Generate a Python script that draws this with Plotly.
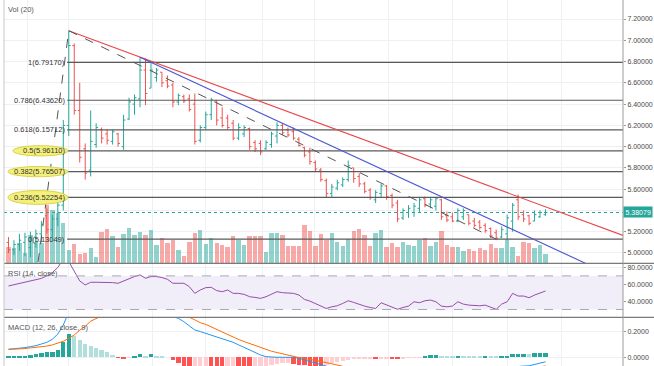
import plotly.graph_objects as go

# ---------------- data ----------------
opens = [5.10, 5.03, 5.08, 5.10, 5.05, 5.15, 5.18, 5.35, 5.22, 5.32,
         5.45, 6.20, 6.95, 6.34, 5.98, 5.78, 6.02, 6.16, 6.12, 6.05,
         6.12, 6.00, 6.26, 6.40, 6.45, 6.72, 6.55, 6.65, 6.70, 6.62,
         6.58, 6.42, 6.47, 6.45, 6.40, 6.06, 6.18, 6.30, 6.43, 6.27,
         6.27, 6.22, 6.08, 6.12, 6.17, 6.04, 6.03, 5.98, 6.02, 6.10,
         6.20, 6.16, 6.14, 6.07, 5.99, 5.95, 5.85, 5.78, 5.68, 5.56,
         5.61, 5.64, 5.69, 5.80, 5.72, 5.65, 5.59, 5.50, 5.56, 5.63,
         5.54, 5.47, 5.33, 5.38, 5.38, 5.42, 5.51, 5.46, 5.44, 5.50,
         5.35, 5.34, 5.30, 5.34, 5.36, 5.30, 5.29, 5.26, 5.23, 5.19,
         5.15, 5.18, 5.30, 5.50, 5.36, 5.35, 5.30, 5.34, 5.36]
highs = [5.15, 5.12, 5.18, 5.19, 5.20, 5.22, 5.30, 5.42, 5.36, 5.50,
         6.25, 7.09, 6.97, 6.60, 6.03, 6.34, 6.22, 6.18, 6.16, 6.16,
         6.13, 6.30, 6.46, 6.49, 6.84, 6.83, 6.80, 6.74, 6.70, 6.67,
         6.60, 6.50, 6.49, 6.49, 6.50, 6.20, 6.33, 6.46, 6.44, 6.37,
         6.30, 6.25, 6.22, 6.20, 6.18, 6.06, 6.06, 6.06, 6.14, 6.23,
         6.22, 6.18, 6.18, 6.09, 6.00, 5.99, 5.87, 5.80, 5.70, 5.65,
         5.69, 5.71, 5.87, 5.80, 5.75, 5.67, 5.61, 5.59, 5.65, 5.64,
         5.56, 5.50, 5.42, 5.45, 5.47, 5.52, 5.53, 5.52, 5.52, 5.51,
         5.39, 5.38, 5.42, 5.42, 5.36, 5.33, 5.31, 5.28, 5.24, 5.22,
         5.25, 5.36, 5.47, 5.55, 5.40, 5.36, 5.40, 5.40, 5.41]
lows = [5.00, 4.98, 5.02, 4.97, 4.96, 5.05, 5.10, 5.18, 5.15, 5.25,
        5.40, 6.10, 6.30, 5.85, 5.69, 5.72, 5.99, 6.03, 6.02, 6.02,
        6.00, 5.97, 6.25, 6.30, 6.37, 6.39, 6.55, 6.61, 6.56, 6.55,
        6.37, 6.39, 6.41, 6.33, 6.02, 6.04, 6.16, 6.25, 6.20, 6.18,
        6.16, 6.06, 6.06, 6.09, 5.97, 5.95, 5.92, 5.97, 5.99, 6.03,
        6.11, 6.09, 6.06, 6.00, 5.90, 5.83, 5.76, 5.67, 5.52, 5.52,
        5.59, 5.62, 5.67, 5.66, 5.62, 5.56, 5.50, 5.47, 5.52, 5.50,
        5.42, 5.29, 5.31, 5.33, 5.34, 5.38, 5.43, 5.42, 5.40, 5.31,
        5.29, 5.29, 5.29, 5.31, 5.26, 5.24, 5.22, 5.19, 5.14, 5.12,
        5.14, 5.12, 5.20, 5.31, 5.29, 5.26, 5.30, 5.33, 5.35]
closes = [5.03, 5.08, 5.12, 5.15, 5.15, 5.18, 5.27, 5.22, 5.32, 5.45,
          6.20, 6.95, 6.34, 5.90, 5.75, 6.05, 6.18, 6.08, 6.06, 6.14,
          6.03, 6.25, 6.42, 6.46, 6.72, 6.50, 6.72, 6.72, 6.60, 6.57,
          6.42, 6.48, 6.43, 6.35, 6.05, 6.18, 6.30, 6.44, 6.25, 6.20,
          6.18, 6.08, 6.18, 6.18, 6.00, 5.98, 5.95, 6.04, 6.12, 6.20,
          6.13, 6.11, 6.08, 6.01, 5.92, 5.86, 5.79, 5.69, 5.56, 5.62,
          5.66, 5.69, 5.82, 5.70, 5.65, 5.58, 5.52, 5.57, 5.63, 5.53,
          5.45, 5.32, 5.40, 5.42, 5.44, 5.50, 5.45, 5.50, 5.51, 5.34,
          5.31, 5.30, 5.40, 5.40, 5.28, 5.26, 5.24, 5.21, 5.16, 5.14,
          5.22, 5.33, 5.45, 5.34, 5.32, 5.28, 5.36, 5.38, 5.38079]
volume = [16, 15, 20, 10, 28, 21, 20, 58, 53, 50,
          40, 13, 19, 9, 10, 15, 6, 31, 34, 27,
          16, 29, 35, 28, 31, 28, 33, 18, 25, 20,
          23, 13, 7, 21, 30, 33, 19, 25, 20, 18,
          16, 27, 23, 18, 27, 27, 27, 11, 30, 30,
          28, 17, 17, 17, 38, 32, 17, 29, 23, 30,
          21, 17, 24, 32, 34, 28, 17, 30, 33, 16,
          20, 16, 21, 18, 17, 23, 25, 17, 21, 32,
          18, 16, 16, 12, 14, 12, 15, 13, 19, 15,
          15, 23, 16, 7, 21, 20, 15, 18, 9]
rsi = [58, 59.5, 61, 62.5, 64, 65, 67, 70, 74, 80,
       90, 87, 75, 64, 59.2, 62.4, 62.4, 62.4, 62, 62,
       61.2, 64, 67.2, 69.2, 71.2, 67.2, 69.2, 69.2, 68, 66,
       61.2, 61.2, 61.2, 57.2, 49.2, 53.2, 56, 56.4, 52.4, 51.2,
       53.2, 49.2, 49.2, 48, 45.2, 44.4, 43.2, 45.2, 48.4, 51.2,
       50, 49.2, 49.2, 47.2, 42, 40, 37.2, 34, 31.2, 33.2,
       34.4, 37.2, 40.4, 38.4, 36, 34, 32.4, 31.2, 38, 35.2,
       32.4, 30.2, 32.4, 34, 39.2, 38, 40.4, 41.2, 39.2, 34,
       33.2, 34, 39.2, 36.4, 35.2, 34.4, 34.4, 35.2, 32.4, 30.2,
       36.4, 39.2, 49.2, 46, 46, 44, 47.2, 50, 52]
macd_line = [0.062, 0.065, 0.07, 0.075, 0.083, 0.09, 0.103, 0.116, 0.14, 0.18,
             0.25, 0.35, 0.38, 0.40, 0.40, 0.39, 0.38, 0.36, 0.345, 0.33,
             0.318, 0.31, 0.32, 0.33, 0.345, 0.35, 0.355, 0.35, 0.34, 0.33,
             0.315, 0.302, 0.276, 0.243, 0.212, 0.199, 0.186, 0.171, 0.160, 0.147,
             0.134, 0.116, 0.096, 0.077, 0.057, 0.036, 0.018, 0.005, 0.0, 0.0,
             0.0, 0.0, 0.0, -0.008, -0.021, -0.034, -0.047, -0.06, -0.072, -0.085,
             -0.095, -0.105, -0.11, -0.115, -0.12, -0.125, -0.13, -0.135, -0.135, -0.138,
             -0.142, -0.148, -0.148, -0.146, -0.142, -0.14, -0.133, -0.128, -0.124, -0.122,
             -0.12, -0.118, -0.112, -0.11, -0.108, -0.107, -0.106, -0.1, -0.098, -0.097,
             -0.094, -0.09, -0.075, -0.07, -0.068, -0.066, -0.058, -0.045, -0.035]
signal_line = [0.062, 0.062, 0.065, 0.068, 0.072, 0.075, 0.08, 0.087, 0.096, 0.108,
               0.124, 0.147, 0.173, 0.21, 0.24, 0.28, 0.30, 0.32, 0.33, 0.335,
               0.338, 0.333, 0.33, 0.33, 0.333, 0.338, 0.342, 0.345, 0.345, 0.342,
               0.338, 0.33, 0.32, 0.31, 0.29, 0.268, 0.255, 0.235, 0.212, 0.193,
               0.175, 0.156, 0.138, 0.122, 0.106, 0.090, 0.074, 0.059, 0.047, 0.037,
               0.026, 0.015, 0.005, -0.002, -0.008, -0.015, -0.024, -0.033, -0.041, -0.05,
               -0.062, -0.072, -0.08, -0.088, -0.095, -0.1, -0.105, -0.11, -0.115, -0.118,
               -0.122, -0.126, -0.13, -0.132, -0.133, -0.133, -0.132, -0.13, -0.128, -0.126,
               -0.124, -0.122, -0.12, -0.118, -0.115, -0.113, -0.11, -0.108, -0.105, -0.103,
               -0.1, -0.098, -0.097, -0.095, -0.094, -0.09, -0.086, -0.075, -0.066]
macd_hist = [0.002, 0.003, 0.005, 0.01, 0.015, 0.022, 0.03, 0.037, 0.042, 0.055,
             0.12, 0.178, 0.162, 0.134, 0.10, 0.083, 0.068, 0.052, 0.036, 0.016,
             -0.005, -0.008, -0.002, 0.01, 0.021, 0.01, 0.02, 0.01, 0.005, 0.0,
             -0.025, -0.05, -0.07, -0.075, -0.072, -0.07, -0.068, -0.072, -0.078, -0.08,
             -0.076, -0.072, -0.075, -0.08, -0.082, -0.078, -0.072, -0.066, -0.06, -0.055,
             -0.05, -0.048, -0.052, -0.058, -0.062, -0.066, -0.07, -0.072, -0.06, -0.045,
             -0.035, -0.028, -0.022, -0.018, -0.016, -0.014, -0.012, -0.015, -0.012, -0.01,
             -0.014, -0.016, -0.01, -0.007, -0.004, -0.002, 0.008, 0.012, 0.013, 0.006,
             0.005, 0.004, 0.008, 0.005, 0.004, 0.003, 0.002, 0.008, 0.004, 0.003,
             0.005, 0.006, 0.022, 0.025, 0.026, 0.024, 0.028, 0.03, 0.031]

fib_ratios = [1, 0.786, 0.618, 0.5, 0.382, 0.236, 0]
fib_prices = [6.79170, 6.43620, 6.15712, 5.96110, 5.76507, 5.52254, 5.13049]
fib_highlighted = [0.5, 0.382, 0.236]
last_price = 5.38079

# drawings (bar index, price)
red_trend = ([11, 112.14], [7.09, 5.165])
blue_trend = ([24, 112.14], [6.84, 4.74])
dash_trend_down = ([11, 89], [7.09, 5.13])
dash_trend_up = ([5.4, 11], [4.915, 7.09])

grid_x = [3.4, 10.9, 26.2, 35.9, 46.3, 55.9, 69.3, 81.1, 91.0, 101.0]
price_ticks = [5.0, 5.2, 5.4, 5.6, 5.8, 6.0, 6.2, 6.4, 6.6, 6.8, 7.0, 7.2]
rsi_ticks = [40, 60, 80]
macd_ticks = [0.0, 0.2]

# ---------------- figure ----------------
n = len(closes)
idx = list(range(n))
X_RANGE = [-0.82, 112.14]
FONT = "Liberation Sans, Arial, sans-serif"
TEAL, RED = "#26a69a", "#ef5350"
GRID = "#eef0f3"

fig = go.Figure()

# volume (base axis y, under price)
vol_colors = ["rgba(38,166,154,0.5)" if c >= o else "rgba(239,83,80,0.5)"
              for o, c in zip(opens, closes)]
fig.add_trace(go.Bar(x=idx, y=volume, marker=dict(color=vol_colors, line_width=0),
                     width=0.8, xaxis="x", yaxis="y"))

# fib levels
FIB_X0 = 10.7
for r, p in zip(fib_ratios, fib_prices):
    fig.add_trace(go.Scatter(x=[FIB_X0, X_RANGE[1]], y=[p, p], mode="lines",
                             line=dict(color="#5a5a5a", width=1.2),
                             xaxis="x", yaxis="y2"))

# current price line
fig.add_trace(go.Scatter(x=X_RANGE, y=[last_price, last_price], mode="lines",
                         line=dict(color=TEAL, width=1, dash="dot"),
                         xaxis="x", yaxis="y2"))

# trend lines
fig.add_trace(go.Scatter(x=red_trend[0], y=red_trend[1], mode="lines",
                         line=dict(color="#e8474a", width=1.1), xaxis="x", yaxis="y2"))
fig.add_trace(go.Scatter(x=blue_trend[0], y=blue_trend[1], mode="lines",
                         line=dict(color="#4b55d0", width=1.1), xaxis="x", yaxis="y2"))
for tl in (dash_trend_down, dash_trend_up):
    fig.add_trace(go.Scatter(x=tl[0], y=tl[1], mode="lines",
                             line=dict(color="#555555", width=1, dash="dash"),
                             xaxis="x", yaxis="y2"))

# price bars
fig.add_trace(go.Ohlc(x=idx, open=opens, high=highs, low=lows, close=closes,
                      increasing=dict(line=dict(color=TEAL, width=1)),
                      decreasing=dict(line=dict(color=RED, width=1)),
                      tickwidth=0.35, xaxis="x", yaxis="y2"))

# RSI
fig.add_trace(go.Scatter(x=idx, y=rsi, mode="lines",
                         line=dict(color="#9350a8", width=1), xaxis="x", yaxis="y3"))

# MACD histogram
hist_colors = []
prev = 0.0
for h in macd_hist:
    if h >= 0:
        hist_colors.append("#26a69a" if h >= prev else "#b2dfdb")
    else:
        hist_colors.append("#ff5252" if h <= prev else "#ffcdd2")
    prev = h
fig.add_trace(go.Bar(x=idx, y=macd_hist, marker=dict(color=hist_colors, line_width=0),
                     width=0.8, xaxis="x", yaxis="y4"))
fig.add_trace(go.Scatter(x=idx, y=macd_line, mode="lines",
                         line=dict(color="#2196f3", width=1), xaxis="x", yaxis="y4"))
fig.add_trace(go.Scatter(x=idx, y=signal_line, mode="lines",
                         line=dict(color="#ff6d00", width=1), xaxis="x", yaxis="y4"))

D_MAIN = [0.2806, 1.0]
D_RSI = [0.1331, 0.2806]
D_MACD = [0.0, 0.1331]
tickfont = dict(family=FONT, size=7, color="#4a4a4a")
yaxis_common = dict(side="right", ticks="outside", ticklen=2, tickcolor="#9a9a9a",
                    showline=False, zeroline=False, gridcolor=GRID, gridwidth=1,
                    tickfont=tickfont, fixedrange=True, automargin=False)

# the last-price label covers the tick label next to it
price_ticktext = ["" if abs(v - last_price) < 0.05 else f"{v:.5f}" for v in price_ticks]

shapes = []
# RSI band
shapes.append(dict(type="rect", xref="paper", yref="y3", x0=0, x1=1, y0=30, y1=70,
                   fillcolor="rgba(149,117,205,0.13)", line_width=0, layer="below"))
for lv in (30, 70):
    shapes.append(dict(type="line", xref="paper", yref="y3", x0=0, x1=1, y0=lv, y1=lv,
                       line=dict(color="#a8a8b8", width=1, dash="dash")))
# highlighted fib labels (ellipses)
for r, p in zip(fib_ratios, fib_prices):
    if r in fib_highlighted:
        hh = 0.065 if r == 0.236 else 0.048
        xl = 0.8 if r == 0.5 else -0.1
        shapes.append(dict(type="circle", xref="x", yref="y2", x0=xl, x1=10.86,
                           y0=p - hh, y1=p + hh, fillcolor="#f4f07c",
                           line=dict(color="#d9d24e", width=1), layer="above"))
# pane separators and borders
for yy in (D_RSI[1], D_MACD[1]):
    shapes.append(dict(type="line", xref="paper", yref="paper", x0=0, x1=1.06, y0=yy, y1=yy,
                       line=dict(color="#7a7a7a", width=1.3)))
shapes.append(dict(type="line", xref="paper", yref="paper", x0=1, x1=1, y0=0, y1=1,
                   line=dict(color="#9a9a9a", width=1)))
shapes.append(dict(type="line", xref="paper", yref="paper", x0=0, x1=0, y0=0, y1=1,
                   line=dict(color="#c8c8c8", width=1)))

annotations = []
for r, p in zip(fib_ratios, fib_prices):
    annotations.append(dict(x=FIB_X0 - 0.1, y=p, xref="x", yref="y2",
                            text=f"{r:g}({p:.5f})", showarrow=False, xanchor="right",
                            yanchor="middle", font=dict(family=FONT, size=7.5, color="#333333")))
annotations.append(dict(x=1, y=last_price, xref="paper", yref="y2", text=f"{last_price:.5f}",
                        showarrow=False, xanchor="left", yanchor="middle", xshift=0,
                        bgcolor=TEAL, borderpad=1.5,
                        font=dict(family=FONT, size=7, color="white")))
for txt, yy in (("Vol (20)", 1 - 9 / 366), ("RSI (14, close)", (366 - 273) / 366),
                ("MACD (12, 26, close, 9)", (366 - 327) / 366)):
    annotations.append(dict(x=0.004, y=yy, xref="paper", yref="paper", text=txt,
                            showarrow=False, xanchor="left", yanchor="middle",
                            font=dict(family=FONT, size=7.5, color="#555555")))

fig.update_layout(
    width=654, height=366,
    margin=dict(l=4, r=31, t=0, b=0, autoexpand=False),
    paper_bgcolor="white", plot_bgcolor="white",
    showlegend=False, hovermode=False, bargap=0,
    xaxis=dict(domain=[0, 1], range=X_RANGE, anchor="y4", tickvals=grid_x,
               showticklabels=False, ticks="", showgrid=True, gridcolor=GRID,
               zeroline=False, rangeslider=dict(visible=False), fixedrange=True,
               automargin=False),
    yaxis=dict(domain=D_MAIN, range=[0, 263.3], visible=False, fixedrange=True),
    yaxis2=dict(overlaying="y", anchor="x", range=[4.903, 7.379], tickvals=price_ticks,
                ticktext=price_ticktext, **yaxis_common),
    yaxis3=dict(domain=D_RSI, anchor="x", range=[20.7, 85], tickvals=rsi_ticks,
                ticktext=[f"{v:.4f}" for v in rsi_ticks], **yaxis_common),
    yaxis4=dict(domain=D_MACD, anchor="x", range=[-0.0674, 0.31], tickvals=macd_ticks,
                ticktext=[f"{v:.4f}" for v in macd_ticks], **yaxis_common),
    shapes=shapes, annotations=annotations,
)

fig.write_html("out.html", config={"displayModeBar": False},
               post_script="document.body.style.margin='0px';document.body.style.overflow='hidden';")
